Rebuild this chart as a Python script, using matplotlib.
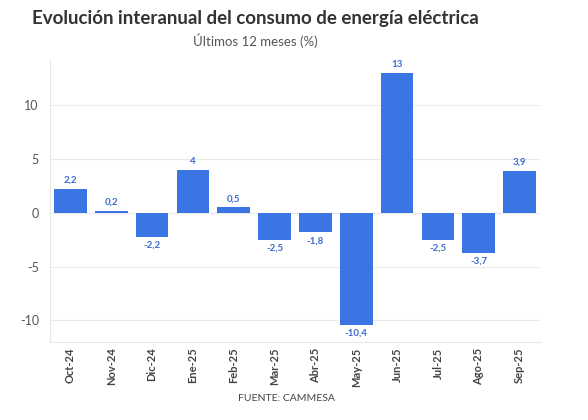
import matplotlib.pyplot as plt

meses = ["Oct-24", "Nov-24", "Dic-24", "Ene-25", "Feb-25", "Mar-25",
         "Abr-25", "May-25", "Jun-25", "Jul-25", "Ago-25", "Sep-25"]
variacion = [2.2, 0.2, -2.2, 4, 0.5, -2.5, -1.8, -10.4, 13, -2.5, -3.7, 3.9]
etiquetas = ["2,2", "0,2", "-2,2", "4", "0,5", "-2,5", "-1,8", "-10,4", "13", "-2,5", "-3,7", "3,9"]

plt.rcParams['font.family'] = ['Lato', 'DejaVu Sans']

azul = "#3b74e3"
fig = plt.figure(figsize=(5.88, 4.2), dpi=100)
ax = fig.add_axes([50 / 588, 1 - 342 / 420, 490 / 588, 282 / 420])

x = range(len(meses))
ax.bar(x, variacion, width=0.8, color=azul, zorder=3)

for i, v in enumerate(variacion):
    if v >= 0:
        ax.annotate(etiquetas[i], (i, v), xytext=(0, 3), textcoords="offset points",
                    ha="center", va="bottom", fontsize=7, fontweight="bold", color="#3c6ad0")
    else:
        ax.annotate(etiquetas[i], (i, v), xytext=(0, -3), textcoords="offset points",
                    ha="center", va="top", fontsize=7, fontweight="bold", color="#3c6ad0")

ax.set_xlim(-0.5, 11.5)
ax.set_ylim(-12, 14.2)
ax.set_yticks([-10, -5, 0, 5, 10])
ax.set_yticklabels(["-10", "-5", "0", "5", "10"])
ax.set_xticks(list(x))
ax.set_xticklabels(meses, rotation=90, fontsize=8, fontweight="bold", color="#444444")
ax.tick_params(axis="y", length=0, labelsize=9, colors="#555555", pad=8)
ax.tick_params(axis="x", length=0, pad=4)
ax.grid(axis="y", color="#ebebeb", linewidth=0.8, zorder=0)

for s in ["top", "right"]:
    ax.spines[s].set_visible(False)
ax.spines["left"].set_color("#e6e6e6")
ax.spines["bottom"].set_color("#e6e6e6")

fig.text(0.434, 0.957, "Evolución interanual del consumo de energía eléctrica",
         ha="center", va="center", fontsize=13.5, fontweight="bold", color="#333333")
fig.text(0.434, 0.903, "Últimos 12 meses (%)", ha="center", va="center",
         fontsize=9.5, color="#555555")
fig.text(0.487, 0.052, "FUENTE: CAMMESA", ha="center", va="center",
         fontsize=7.5, color="#444444")

plt.savefig("out.png", dpi=100)
